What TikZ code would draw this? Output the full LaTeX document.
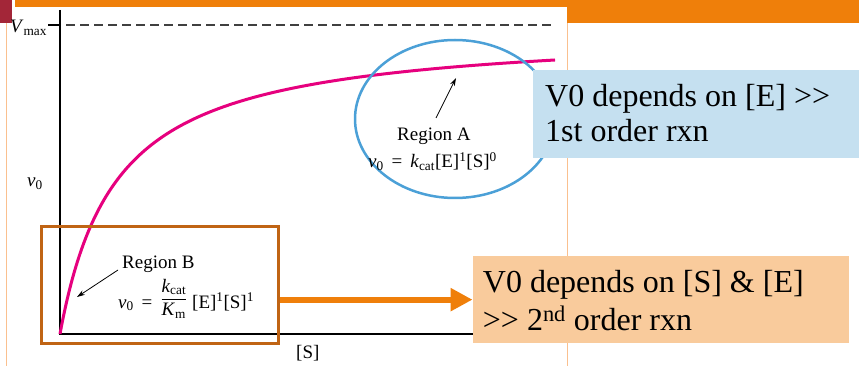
\documentclass[tikz,border=0pt]{standalone}
\usepackage{amsmath}
\usepackage{fontspec}
\setmainfont{Liberation Serif}
\usetikzlibrary{arrows.meta,shapes.geometric}
\definecolor{barorange}{RGB}{239,127,10}
\definecolor{maroon}{RGB}{163,38,56}
\definecolor{panelborder}{RGB}{250,192,143}
\definecolor{ellblue}{RGB}{75,160,215}
\definecolor{curvemag}{RGB}{230,0,126}
\definecolor{boxbrown}{RGB}{192,100,20}
\definecolor{boxblue}{RGB}{197,224,240}
\definecolor{boxorange}{RGB}{249,203,156}
\tikzset{
  lbl/.style={font=\fontsize{19}{22}\selectfont, inner sep=0pt, anchor=base west},
  bigtxt/.style={font=\fontsize{32}{35}\selectfont, inner sep=0pt, anchor=base west},
  axisline/.style={line width=2pt, black},
  thinarrow/.style={line width=0.8pt, black, -{Stealth[length=8pt,width=5pt]}},
}
\begin{document}
\begin{tikzpicture}[x=1pt,y=-1pt]
\useasboundingbox (0,0) rectangle (859,366);
% slide header and panel
\fill[barorange] (0,0) rectangle (859,23);
\fill[white] (12,0) rectangle (15,7.5);
\fill[white] (6,7.5) rectangle (567,366);
\draw[panelborder, line width=1pt] (6,23) -- (6,366);
\draw[panelborder, line width=1pt] (567,23) -- (567,366);
\fill[maroon] (0,0) rectangle (12,23);
% axes
\coordinate (O) at (60,334);
\coordinate (ytop) at (60,10);
\coordinate (xend) at (560,334);
\draw[axisline] (ytop) -- (O) -- (xend);
\coordinate (vt) at (48,25);
\draw[axisline] (vt) -- (vt -| O);
\coordinate (d1) at (66,25);
\coordinate (d2) at (555,25);
\draw[line width=1.2pt, black!75, dash pattern=on 9pt off 5pt] (d1) -- (d2);
% curve
\draw[curvemag, line width=3pt] plot[domain=0:22.25, samples=150, smooth]
  ({60+\x*\x},{334-305*(\x*\x/(56+\x*\x))});
% axis labels
\node[lbl] (vmax) at (10,33) {\textit{V}\textsubscript{max}};
\node[lbl] (v0) at (27,187) {\textit{v}\textsubscript{0}};
\node[lbl] (S) at (296,358) {[S]};
% region A
\node[ellipse, draw=ellblue, line width=2.5pt, minimum width=200pt, minimum height=158pt, inner sep=0pt] (regA) at (455,119) {};
\node[lbl] (ra) at (397,140.7) {Region A};
\node[lbl] (fa) at (368,168) {\textit{v}\textsubscript{0} \,=\, \textit{k}\textsubscript{cat}[E]\textsuperscript{1}[S]\textsuperscript{0}};
\coordinate (aA1) at (436,118);
\coordinate (aA2) at (456,78);
\draw[thinarrow] (aA1) -- (aA2);
% region B
\node[lbl] (rb) at (122,268) {Region B};
\node[lbl] (fb) at (118,308) {\textit{v}\textsubscript{0} \,=\, \raisebox{4pt}{$\dfrac{\text{\textit{k}\textsubscript{cat}}}{\text{\textit{K}\textsubscript{m}}}$} [E]\textsuperscript{1}[S]\textsuperscript{1}};
\coordinate (aB1) at (118,270);
\coordinate (aB2) at (77,297);
\draw[thinarrow] (aB1) -- (aB2);
\node[draw=boxbrown, line width=2.5pt, minimum width=237pt, minimum height=117pt, inner sep=0pt] (bbox) at (160,285) {};
% blue callout
\node[fill=boxblue, minimum width=326.3pt, minimum height=87.7pt, inner sep=0pt] (bluebox) at (695.85,113.85) {};
\node[bigtxt] (bt1) at (545,106.7) {V0 depends on [E] >{}>};
\node[bigtxt] (bt2) at (545,141.7) {1st order rxn};
% orange callout
\node[fill=boxorange, minimum width=376.3pt, minimum height=87.3pt, inner sep=0pt] (obox) at (660.85,299.65) {};
\node[bigtxt] (ot1) at (482.7,292.7) {V0 depends on [S] \& [E]};
\node[bigtxt] (ot2) at (482.7,330.7) {>{}> 2\textsuperscript{nd} order rxn};
\draw[barorange, line width=6pt, -{Triangle[length=22pt,width=22pt]}] (bbox.east |- obox.west) -- (obox.west);
\end{tikzpicture}
\end{document}
